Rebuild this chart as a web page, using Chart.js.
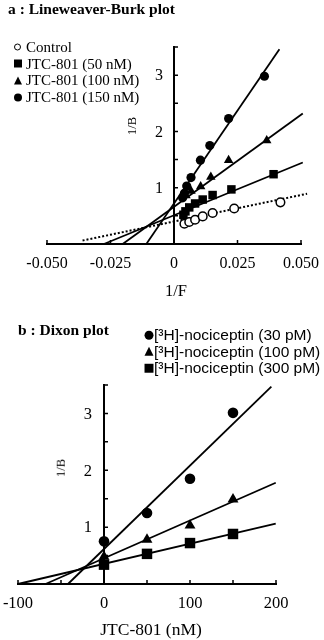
<!DOCTYPE html>
<html>
<head>
<meta charset="utf-8">
<script src="https://cdn.jsdelivr.net/npm/chart.js@4/dist/chart.umd.min.js"></script>
<style>
  body { margin: 0; width: 324px; height: 640px; background: #fff; position: relative; overflow: hidden; color: #000; font-family: "Liberation Serif", serif; }
  canvas { position: absolute; left: 0; }
  #chartA { top: 0; }
  #chartB { top: 300px; }
  .txt { position: absolute; white-space: nowrap; line-height: 1; transform: translateY(-50%); }
  .title { font-weight: bold; font-size: 15.5px; }
  .row { position: absolute; display: flex; align-items: center; white-space: nowrap; line-height: 1; transform: translateY(-50%); }
  .mk { display: inline-block; box-sizing: border-box; }
  .m-open { width: 7px; height: 7px; border: 1.5px solid #000; border-radius: 50%; }
  .m-circle { width: 8px; height: 8px; background: #000; border-radius: 50%; }
  .m-square { width: 8px; height: 8px; background: #000; }
  .m-tri { width: 0; height: 0; border-left: 4.5px solid transparent; border-right: 4.5px solid transparent; border-bottom: 8px solid #000; }
</style>
</head>
<body>
<canvas id="chartA" width="324" height="300"></canvas>
<canvas id="chartB" width="324" height="340"></canvas>

<div class="txt title" style="left:8px; top:9px">a : Lineweaver-Burk plot</div>
<div class="txt title" style="left:18px; top:330px">b : Dixon plot</div>
<div id="legendA"></div>
<div id="legendB"></div>
<div class="txt" style="left:176px; top:291px; font-size:16.5px; transform:translate(-50%,-50%)">1/F</div>
<div class="txt" style="left:132px; top:126px; font-size:12.5px; transform:translate(-50%,-50%) rotate(-90deg)">1/B</div>
<div class="txt" style="left:61px; top:468px; font-size:12.5px; transform:translate(-50%,-50%) rotate(-90deg)">1/B</div>
<div class="txt" style="left:151px; top:630px; font-size:17.5px; transform:translate(-50%,-50%)">JTC-801 (nM)</div>

<script>
// a : Lineweaver-Burk (x = 1/F, y = 1/B)
const lbLabels = ['Control', 'JTC-801 (50 nM)', 'JTC-801 (100 nM)', 'JTC-801 (150 nM)']
const ctrlX = [0.0041, 0.0060, 0.0083, 0.0113, 0.0152, 0.0237, 0.0419]
const ctrlY = [0.36, 0.39, 0.43, 0.49, 0.55, 0.63, 0.74]
const jtc50X = [0.0037, 0.0045, 0.0060, 0.0083, 0.0113, 0.0152, 0.0226, 0.0392]
const jtc50Y = [0.52, 0.58, 0.65, 0.72, 0.79, 0.87, 0.97, 1.24]
const jtc100X = [0.0047, 0.0067, 0.0105, 0.0145, 0.0215, 0.0365]
const jtc100Y = [0.86, 0.94, 1.02, 1.19, 1.49, 1.84]
const jtc150X = [0.0034, 0.0041, 0.0050, 0.0067, 0.0104, 0.0141, 0.0215, 0.0356]
const jtc150Y = [0.82, 0.90, 1.03, 1.18, 1.49, 1.75, 2.23, 2.98]
// regression lines: slope, intercept, x range
const lbSlope = [9.4, 18.5, 32.7, 66]
const lbIntercept = [0.40, 0.51, 0.66, 0.72]
const lbFrom = [-0.036, -0.0276, -0.0202, -0.0109]
const lbTo = [0.0524, 0.0507, 0.0507, 0.0415]
const lbXTicks = [-0.05, 0.05, 0.025]   // min, max, step
const lbYTicks = [0, 3.5, 0.5]

// b : Dixon (x = JTC-801 nM, y = 1/B)
const dxLabels = ['[³H]-nociceptin (30 pM)', '[³H]-nociceptin (100 pM)', '[³H]-nociceptin (300 pM)']
const dixonX = [0, 50, 100, 150]
const pm30Y = [0.75, 1.25, 1.85, 3.01]
const pm100Y = [0.48, 0.78, 1.03, 1.49]
const pm300Y = [0.34, 0.53, 0.72, 0.88]
const dxSlope = [0.01467, 0.00665, 0.00354]
const dxIntercept = [0.615, 0.452, 0.354]
const dxFrom = [-41.9, -68, -100]
const dxTo = [194.6, 199.7, 199.7]
const dxXTicks = [-100, 200, 50]
const dxYTicks = [0, 3.5, 0.5]

const pts = (xs, ys) => xs.map((x, i) => ({ x: x, y: ys[i] }))
const fitLine = (m, b, x1, x2) => [{ x: x1, y: b + m * x1 }, { x: x2, y: b + m * x2 }]
const yLabel = v => (Number.isInteger(v) && v > 0) ? String(v) : ''

// tick marks pointing into the plot + y labels left of the zero line
const inwardTicks = {
  id: 'inwardTicks',
  beforeDatasetsDraw(chart, args, opts) {
    const { ctx, scales: { x, y } } = chart
    const x0 = x.getPixelForValue(0)
    const y0 = y.getPixelForValue(0)
    ctx.save()
    ctx.strokeStyle = '#000'
    ctx.lineWidth = 1.5
    ctx.beginPath()
    x.ticks.forEach(t => {
      const px = x.getPixelForValue(t.value)
      ctx.moveTo(px, y0)
      ctx.lineTo(px, y0 - 4)
    })
    y.ticks.forEach(t => {
      const py = y.getPixelForValue(t.value)
      ctx.moveTo(x0, py)
      ctx.lineTo(x0 + 4, py)
    })
    ctx.stroke()
    ctx.fillStyle = '#000'
    ctx.font = opts.font
    ctx.textAlign = 'right'
    ctx.textBaseline = 'middle'
    y.ticks.forEach(t => {
      ctx.fillText(yLabel(t.value), x0 - opts.gap, y.getPixelForValue(t.value) + 1)
    })
    ctx.restore()
  }
}

function marker(style, r, open) {
  return {
    showLine: false,
    pointStyle: style,
    pointRadius: r,
    pointHoverRadius: r,
    pointBackgroundColor: open ? '#fff' : '#000',
    pointBorderColor: '#000',
    pointBorderWidth: open ? 1.5 : 0,
    order: 0
  }
}

function line(data, dashed) {
  return {
    data: data,
    showLine: true,
    borderColor: '#000',
    borderWidth: dashed ? 2 : 1.8,
    borderDash: dashed ? [2, 2] : [],
    pointRadius: 0,
    clip: false,
    order: 1
  }
}

function axes(xt, yt, xFmt, fontSize) {
  const font = { family: 'Liberation Serif', size: fontSize }
  return {
    x: {
      type: 'linear', min: xt[0], max: xt[1], position: { y: 0 },
      grid: { display: false, drawTicks: false },
      border: { display: true, color: '#000', width: 2 },
      ticks: { stepSize: xt[2], padding: 10, color: '#000', font: font, maxRotation: 0, autoSkip: false, callback: xFmt },
      afterFit: s => { s.paddingLeft = 0; s.paddingRight = 0 }
    },
    y: {
      type: 'linear', min: yt[0], max: yt[1], position: { x: 0 },
      grid: { display: false, drawTicks: false },
      border: { display: true, color: '#000', width: 2 },
      ticks: { stepSize: yt[2], display: false, autoSkip: false },
      afterFit: s => { s.paddingTop = 0; s.paddingBottom = 0 }
    }
  }
}

const baseOptions = (padding, scales, fontSize, gap) => ({
  responsive: false,
  animation: false,
  layout: { padding: padding },
  plugins: {
    legend: { display: false },
    tooltip: { enabled: false },
    inwardTicks: { font: fontSize + 'px "Liberation Serif"', gap: gap }
  },
  scales: scales
})

// Lineweaver-Burk Chart
const chartA = new Chart(document.getElementById('chartA'), {
  type: 'scatter',
  data: {
    datasets: [
      Object.assign({ data: pts(ctrlX, ctrlY) }, marker('circle', 4.3, true)),
      Object.assign({ data: pts(jtc50X, jtc50Y) }, marker('rect', 6, false)),
      Object.assign({ data: pts(jtc100X, jtc100Y) }, marker('triangle', 5.5, false)),
      Object.assign({ data: pts(jtc150X, jtc150Y) }, marker('circle', 4.6, false)),
      line(fitLine(lbSlope[0], lbIntercept[0], lbFrom[0], lbTo[0]), true),
      line(fitLine(lbSlope[1], lbIntercept[1], lbFrom[1], lbTo[1]), false),
      line(fitLine(lbSlope[2], lbIntercept[2], lbFrom[2], lbTo[2]), false),
      line(fitLine(lbSlope[3], lbIntercept[3], lbFrom[3], lbTo[3]), false)
    ]
  },
  options: baseOptions({ left: 47, right: 23, top: 47, bottom: 56 },
    axes(lbXTicks, lbYTicks, v => Math.abs(v) < 1e-9 ? '0' : v.toFixed(3), 16), 16, 11),
  plugins: [inwardTicks]
})

// Dixon Chart
const chartB = new Chart(document.getElementById('chartB'), {
  type: 'scatter',
  data: {
    datasets: [
      Object.assign({ data: pts(dixonX, pm30Y) }, marker('circle', 5.3, false)),
      Object.assign({ data: pts(dixonX, pm100Y) }, marker('triangle', 6.3, false)),
      Object.assign({ data: pts(dixonX, pm300Y) }, marker('rect', 7.4, false)),
      line(fitLine(dxSlope[0], dxIntercept[0], dxFrom[0], dxTo[0]), false),
      line(fitLine(dxSlope[1], dxIntercept[1], dxFrom[1], dxTo[1]), false),
      line(fitLine(dxSlope[2], dxIntercept[2], dxFrom[2], dxTo[2]), false)
    ]
  },
  options: baseOptions({ left: 18, right: 48, top: 85, bottom: 56 },
    axes(dxXTicks, dxYTicks, v => (v % 100 === 0) ? String(v) : '', 16.5), 16.5, 12),
  plugins: [inwardTicks]
})

// legends
const legendA = document.getElementById('legendA')
const markA = ['m-open', 'm-square', 'm-tri', 'm-circle']
const rowA = [47, 63.7, 80.3, 97]
lbLabels.forEach((t, i) => {
  legendA.insertAdjacentHTML('beforeend',
    `<div class="row" style="left:9px; top:${rowA[i]}px; font-size:15px"><span style="width:17px; display:inline-flex; justify-content:center"><span class="mk ${markA[i]}"></span></span>${t}</div>`)
})
const legendB = document.getElementById('legendB')
const markB = ['m-circle', 'm-tri', 'm-square']
const rowB = [335, 351.7, 368.3]
dxLabels.forEach((t, i) => {
  legendB.insertAdjacentHTML('beforeend',
    `<div class="row" style="left:144px; top:${rowB[i]}px; font-size:15.5px; font-family:'Liberation Sans', sans-serif"><span style="width:10px; display:inline-flex; justify-content:center"><span class="mk ${markB[i]}" style="transform:scale(1.12)"></span></span>${t}</div>`)
})
</script>
</body>
</html>
